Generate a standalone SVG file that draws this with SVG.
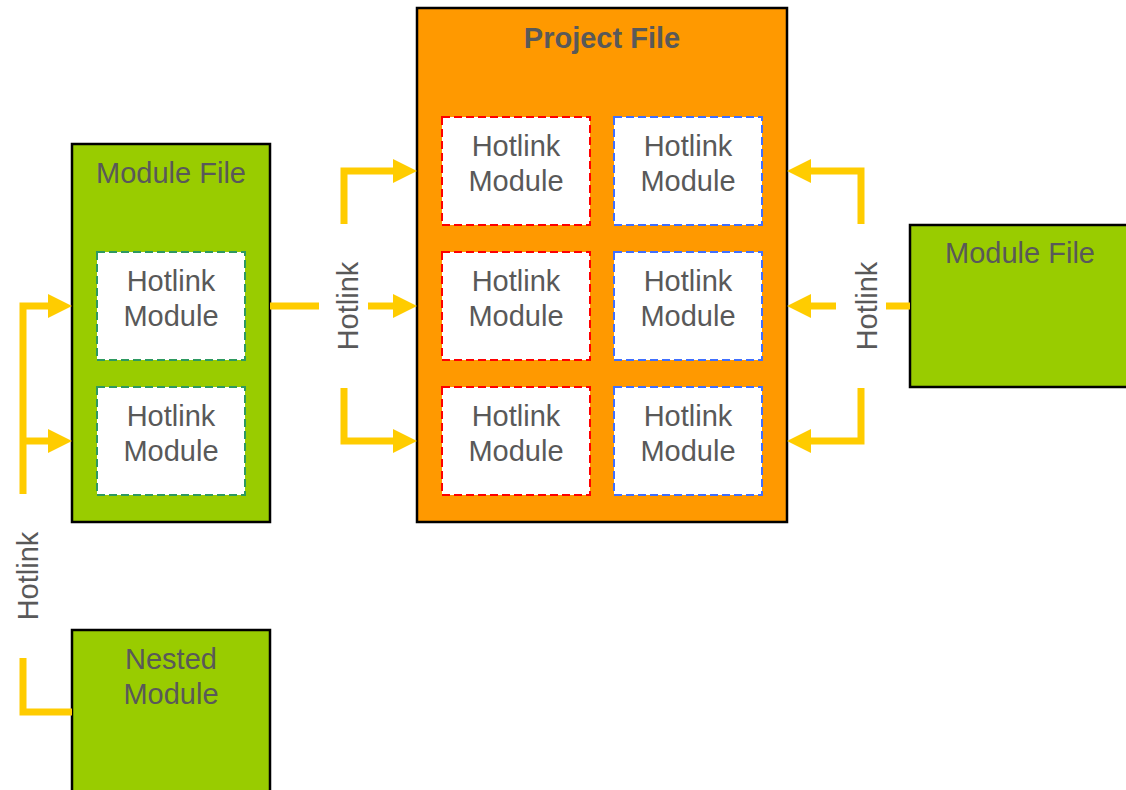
<svg xmlns="http://www.w3.org/2000/svg" width="1126" height="790" viewBox="0 0 1126 790">
<style>
.t{font-family:"Liberation Sans",Arial,sans-serif;font-size:29px;fill:#595959;text-anchor:middle}
.b{font-weight:bold}
.green{fill:#99CC00;stroke:#000;stroke-width:2.5}
.orange{fill:#FF9900;stroke:#000;stroke-width:2.5}
.hm{fill:#fff;stroke-width:2;stroke-dasharray:8 4}
.r{stroke:#FF0000}
.bl{stroke:#3F6FFF}
.g{stroke:#2E9960}
.c{fill:none;stroke:#FFCC00;stroke-width:7}
.ah{fill:#FFCC00}
</style>
<rect width="1126" height="790" fill="#fff"/>
<g id="project-file">
<rect class="orange" x="417" y="8" width="370" height="514"/>
<text class="t b" x="602" y="48">Project File</text>
</g>
<g id="pf-hm-r1">
<rect class="hm r" x="442" y="117" width="148" height="108"/>
<text class="t" x="516" y="156">Hotlink</text><text class="t" x="516" y="191">Module</text>
</g>
<g id="pf-hm-b1">
<rect class="hm bl" x="614" y="117" width="148" height="108"/>
<text class="t" x="688" y="156">Hotlink</text><text class="t" x="688" y="191">Module</text>
</g>
<g id="pf-hm-r2">
<rect class="hm r" x="442" y="252" width="148" height="108"/>
<text class="t" x="516" y="291">Hotlink</text><text class="t" x="516" y="326">Module</text>
</g>
<g id="pf-hm-b2">
<rect class="hm bl" x="614" y="252" width="148" height="108"/>
<text class="t" x="688" y="291">Hotlink</text><text class="t" x="688" y="326">Module</text>
</g>
<g id="pf-hm-r3">
<rect class="hm r" x="442" y="387" width="148" height="108"/>
<text class="t" x="516" y="426">Hotlink</text><text class="t" x="516" y="461">Module</text>
</g>
<g id="pf-hm-b3">
<rect class="hm bl" x="614" y="387" width="148" height="108"/>
<text class="t" x="688" y="426">Hotlink</text><text class="t" x="688" y="461">Module</text>
</g>
<g id="module-file-left">
<rect class="green" x="72" y="144" width="198" height="378"/>
<text class="t" x="171" y="183">Module File</text>
</g>
<g id="mf-hm-1">
<rect class="hm g" x="97" y="252" width="148" height="108"/>
<text class="t" x="171" y="291">Hotlink</text><text class="t" x="171" y="326">Module</text>
</g>
<g id="mf-hm-2">
<rect class="hm g" x="97" y="387" width="148" height="108"/>
<text class="t" x="171" y="426">Hotlink</text><text class="t" x="171" y="461">Module</text>
</g>
<g id="module-file-right">
<rect class="green" x="910" y="225" width="220" height="162"/>
<text class="t" x="1020" y="263">Module File</text>
</g>
<g id="nested-module">
<rect class="green" x="72" y="630" width="198" height="170"/>
<text class="t" x="171" y="669">Nested</text><text class="t" x="171" y="704">Module</text>
</g>
<g id="connectors">
<path class="c" d="M23 494 V306 H50"/>
<path class="c" d="M23 441 H50"/>
<polygon class="ah" points="72,306 48,294 48,318"/>
<polygon class="ah" points="72,441 48,429 48,453"/>
<path class="c" d="M23 658 V712 H72"/>
<text class="t" transform="translate(38,576) rotate(-90)">Hotlink</text>
<path class="c" d="M270 306 H319"/>
<path class="c" d="M368 306 H395"/>
<path class="c" d="M344 224 V171 H395"/>
<path class="c" d="M344 388 V441 H395"/>
<polygon class="ah" points="417,171 393,159 393,183"/>
<polygon class="ah" points="417,306 393,294 393,318"/>
<polygon class="ah" points="417,441 393,429 393,453"/>
<text class="t" transform="translate(358,306) rotate(-90)">Hotlink</text>
<path class="c" d="M910 306 H886"/>
<path class="c" d="M836 306 H809"/>
<path class="c" d="M861 224 V171 H809"/>
<path class="c" d="M861 388 V441 H809"/>
<polygon class="ah" points="787,171 811,159 811,183"/>
<polygon class="ah" points="787,306 811,294 811,318"/>
<polygon class="ah" points="787,441 811,429 811,453"/>
<text class="t" transform="translate(877,306) rotate(-90)">Hotlink</text>
</g>
</svg>
